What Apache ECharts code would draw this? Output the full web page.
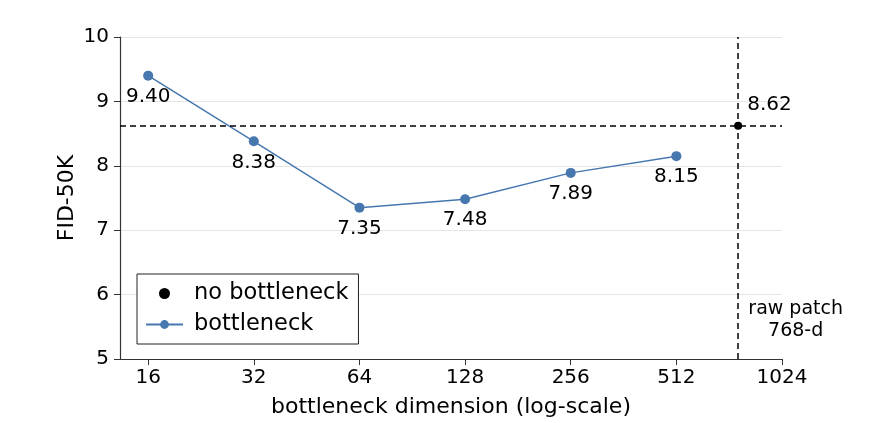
<!DOCTYPE html>
<html><head><meta charset="utf-8">
<script src="https://cdn.jsdelivr.net/npm/echarts@6/dist/echarts.min.js"></script>
<style>html,body{margin:0;padding:0;background:#fff}#c{width:874px;height:423px}</style>
</head><body><div id="c"></div>
<script>
const dims = [16, 32, 64, 128, 256, 512];
const fid = [9.40, 8.38, 7.35, 7.48, 7.89, 8.15];
const xTicks = [16, 32, 64, 128, 256, 512, 1024];
const yTicks = [5, 6, 7, 8, 9, 10];
const rawDim = 768;
const rawFid = 8.62;
const seriesNames = ['no bottleneck', 'bottleneck'];
const rawNote = 'raw patch\n768-d';

const font = 'DejaVu Sans';
const chart = echarts.init(document.getElementById('c'));
chart.setOption({
  animation: false,
  textStyle: {fontFamily: font},
  grid: {left: 120, right: 92, top: 37, bottom: 63},
  legend: {
    orient: 'vertical', left: 137, top: 274,
    padding: [8, 10, 8, 8], itemGap: 8,
    itemWidth: 37, itemHeight: 11,
    borderColor: '#222', borderWidth: 1, borderRadius: 0,
    backgroundColor: '#fff',
    textStyle: {fontFamily: font, fontSize: 22.5, color: '#000', padding: [0, 0, 0, 6]},
    data: [{name: seriesNames[0], icon: 'circle', itemStyle: {color: '#000'}}, {name: seriesNames[1]}]
  },
  xAxis: {
    type: 'log', logBase: 2, min: 13.3, max: 1024,
    name: 'bottleneck dimension (log-scale)', nameLocation: 'middle', nameGap: 37,
    nameTextStyle: {fontSize: 22, color: '#000', fontFamily: font},
    axisLine: {lineStyle: {color: '#333', width: 1.2}},
    axisTick: {customValues: xTicks, length: 6, lineStyle: {color: '#333'}},
    axisLabel: {customValues: xTicks, fontSize: 20, color: '#000', margin: 9, formatter: v => String(Math.round(v))},
    splitLine: {show: false}, minorTick: {show: false}
  },
  yAxis: {
    type: 'value', min: 5, max: 10, interval: 1,
    name: 'FID-50K', nameLocation: 'middle', nameGap: 42, nameRotate: 90, nameMoveOverlap: false,
    nameTextStyle: {fontSize: 22, color: '#000', fontFamily: font},
    axisLine: {show: true, lineStyle: {color: '#333', width: 1.2}},
    axisTick: {show: true, length: 6, lineStyle: {color: '#333'}},
    axisLabel: {fontSize: 20, color: '#000', margin: 11},
    splitLine: {show: true, lineStyle: {color: '#e5e5e5', width: 1}}
  },
  series: [
    {
      name: seriesNames[0], type: 'scatter', symbol: 'circle', symbolSize: 8,
      itemStyle: {color: '#000', opacity: 1}, z: 5,
      data: [[rawDim, rawFid]],
      label: {show: true, position: 'right', offset: [0, -21], fontSize: 20, color: '#000', opacity: 1,
        formatter: p => p.value[1].toFixed(2)},
      markLine: {
        silent: true, symbol: 'none',
        lineStyle: {color: '#000', type: [6, 4], width: 1.5, opacity: 1},
        label: {show: false},
        data: [{yAxis: rawFid}, {xAxis: rawDim}]
      },
      markPoint: {
        silent: true, symbol: 'rect', symbolSize: 1, itemStyle: {color: 'rgba(0,0,0,0)'},
        label: {show: true, position: 'right', distance: 0, align: 'center', offset: [57, 0],
          fontSize: 19, color: '#000', lineHeight: 22, formatter: rawNote},
        data: [{coord: [rawDim, 5.6]}]
      }
    },
    {
      name: seriesNames[1], type: 'line', symbol: 'circle', symbolSize: 10,
      showAllSymbol: true,
      lineStyle: {color: '#4677af', width: 1.5},
      itemStyle: {color: '#4677af'},
      data: dims.map((d, i) => [d, fid[i]]),
      label: {show: true, position: 'bottom', distance: 6, fontSize: 20, color: '#000',
        formatter: p => p.value[1].toFixed(2)}
    }
  ]
});
</script></body></html>
